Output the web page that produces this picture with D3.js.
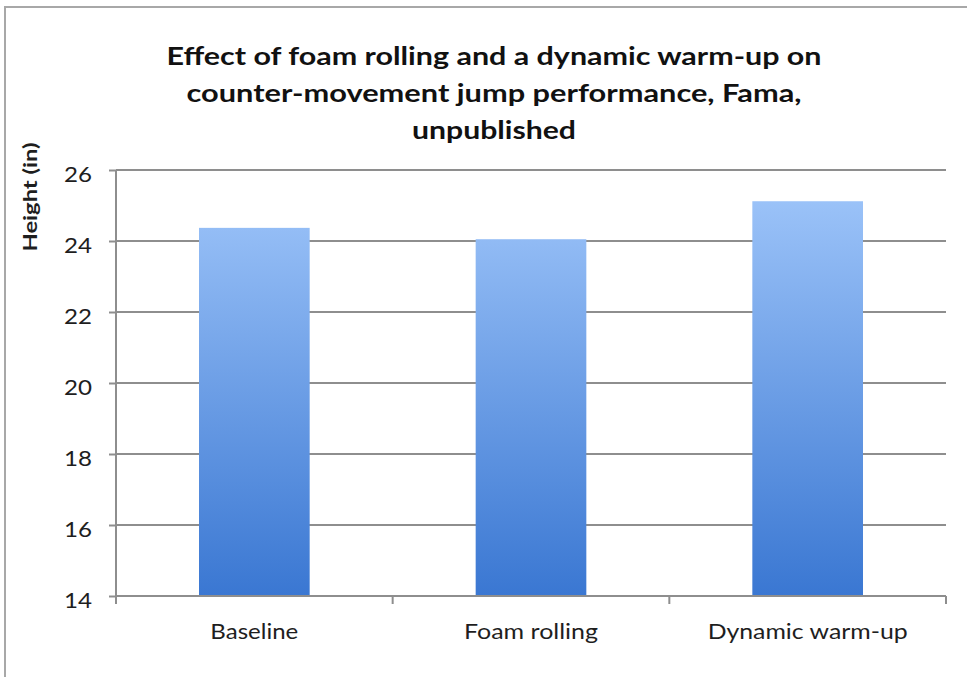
<!DOCTYPE html>
<html>
<head>
<meta charset="utf-8">
<script src="https://cdn.jsdelivr.net/npm/d3@7"></script>
<style>
  html, body { margin: 0; padding: 0; background: #fff; }
  svg { display: block; }
</style>
</head>
<body>
<svg id="chart" width="967" height="677"></svg>
<script>
// Counter-movement jump height by condition (inches)
const categories = ["Baseline", "Foam rolling", "Dynamic warm-up"];
const heights = [24.37, 24.05, 25.12];
const yTicks = [14, 16, 18, 20, 22, 24, 26];
const titleLines = [
  "Effect of foam rolling and a dynamic warm-up on",
  "counter-movement jump performance, Fama,",
  "unpublished"
];
const yAxisTitle = "Height (in)";

const W = 967, H = 677;
const margin = { left: 116, right: 21, top: 170, bottom: 81 };
const plotW = W - margin.left - margin.right;
const plotH = H - margin.top - margin.bottom;
const font = "Lato, 'Open Sans', sans-serif";
const gridColor = "#8e8e8e";
const textColor = "#1e1e1e";

// the text runs a little wider than Lato's natural advance, so widths are set per string
const titleWidths = [655, 615, 164];
const labelWidths = [88, 134, 200];

const svg = d3.select("#chart");

// outer frame
svg.append("rect")
  .attr("x", 5).attr("y", 7)
  .attr("width", W + 20).attr("height", H + 20)
  .attr("fill", "none").attr("stroke", "#a8a8a8").attr("stroke-width", 2);

const x = d3.scaleBand().domain(categories).range([0, plotW]).paddingInner(0.6).paddingOuter(0.3);
const y = d3.scaleLinear().domain([14, 26]).range([plotH, 0]);

const defs = svg.append("defs");
const grad = defs.append("linearGradient")
  .attr("id", "barFill")
  .attr("gradientUnits", "userSpaceOnUse")
  .attr("x1", 0).attr("x2", 0)
  .attr("y1", y(26)).attr("y2", y(14));
grad.append("stop").attr("offset", "0%").attr("stop-color", "#a2c8fb");
grad.append("stop").attr("offset", "100%").attr("stop-color", "#3a77d2");

const g = svg.append("g").attr("transform", `translate(${margin.left},${margin.top})`);

// horizontal gridlines
g.append("g").selectAll("line")
  .data(yTicks.filter(t => t !== 14))
  .join("line")
  .attr("x1", 0).attr("x2", plotW)
  .attr("y1", d => y(d)).attr("y2", d => y(d))
  .attr("stroke", gridColor).attr("stroke-width", 2);

// bars
g.append("g").selectAll("rect")
  .data(categories.map((c, i) => ({ c, v: heights[i] })))
  .join("rect")
  .attr("x", d => x(d.c))
  .attr("width", x.bandwidth())
  .attr("y", d => y(d.v))
  .attr("height", d => y(14) - y(d.v))
  .attr("fill", "url(#barFill)");

// y axis
const yAxis = g.append("g")
  .call(d3.axisLeft(y).tickValues(yTicks).tickSize(7).tickPadding(17).tickFormat(d3.format("d")));
yAxis.select(".domain").attr("stroke", gridColor).attr("stroke-width", 2).attr("d", `M0,0V${plotH}`);
yAxis.selectAll(".tick line").attr("stroke", gridColor).attr("stroke-width", 2);
yAxis.selectAll(".tick text")
  .attr("font-family", font).attr("font-size", 22).attr("fill", textColor)
  .attr("dy", "0.5em")
  .attr("textLength", 28).attr("lengthAdjust", "spacingAndGlyphs");

// x axis: ticks at category boundaries
const xAxis = g.append("g").attr("transform", `translate(0,${plotH})`);
xAxis.append("line").attr("x1", 0).attr("x2", plotW)
  .attr("stroke", gridColor).attr("stroke-width", 2);
const step = plotW / categories.length;
xAxis.selectAll("line.bnd")
  .data(d3.range(categories.length + 1))
  .join("line").attr("class", "bnd")
  .attr("x1", i => i * step).attr("x2", i => i * step)
  .attr("y1", 0).attr("y2", 8)
  .attr("stroke", gridColor).attr("stroke-width", 2);
xAxis.selectAll("text")
  .data(categories)
  .join("text")
  .attr("x", d => x(d) + x.bandwidth() / 2)
  .attr("y", 43)
  .attr("text-anchor", "middle")
  .attr("font-family", font).attr("font-size", 22).attr("fill", textColor)
  .attr("textLength", (d, i) => labelWidths[i]).attr("lengthAdjust", "spacingAndGlyphs")
  .text(d => d);

// y axis title
svg.append("text")
  .attr("transform", "translate(37,197) rotate(-90)")
  .attr("text-anchor", "middle")
  .attr("font-family", font).attr("font-weight", "bold").attr("font-size", 18).attr("fill", textColor)
  .attr("textLength", 109).attr("lengthAdjust", "spacingAndGlyphs")
  .text(yAxisTitle);

// chart title
svg.append("g").selectAll("text")
  .data(titleLines)
  .join("text")
  .attr("x", 494)
  .attr("y", (d, i) => 65 + i * 37)
  .attr("text-anchor", "middle")
  .attr("font-family", font).attr("font-weight", "bold").attr("font-size", 25).attr("fill", "#111")
  .attr("textLength", (d, i) => titleWidths[i]).attr("lengthAdjust", "spacingAndGlyphs")
  .text(d => d);
</script>
</body>
</html>
